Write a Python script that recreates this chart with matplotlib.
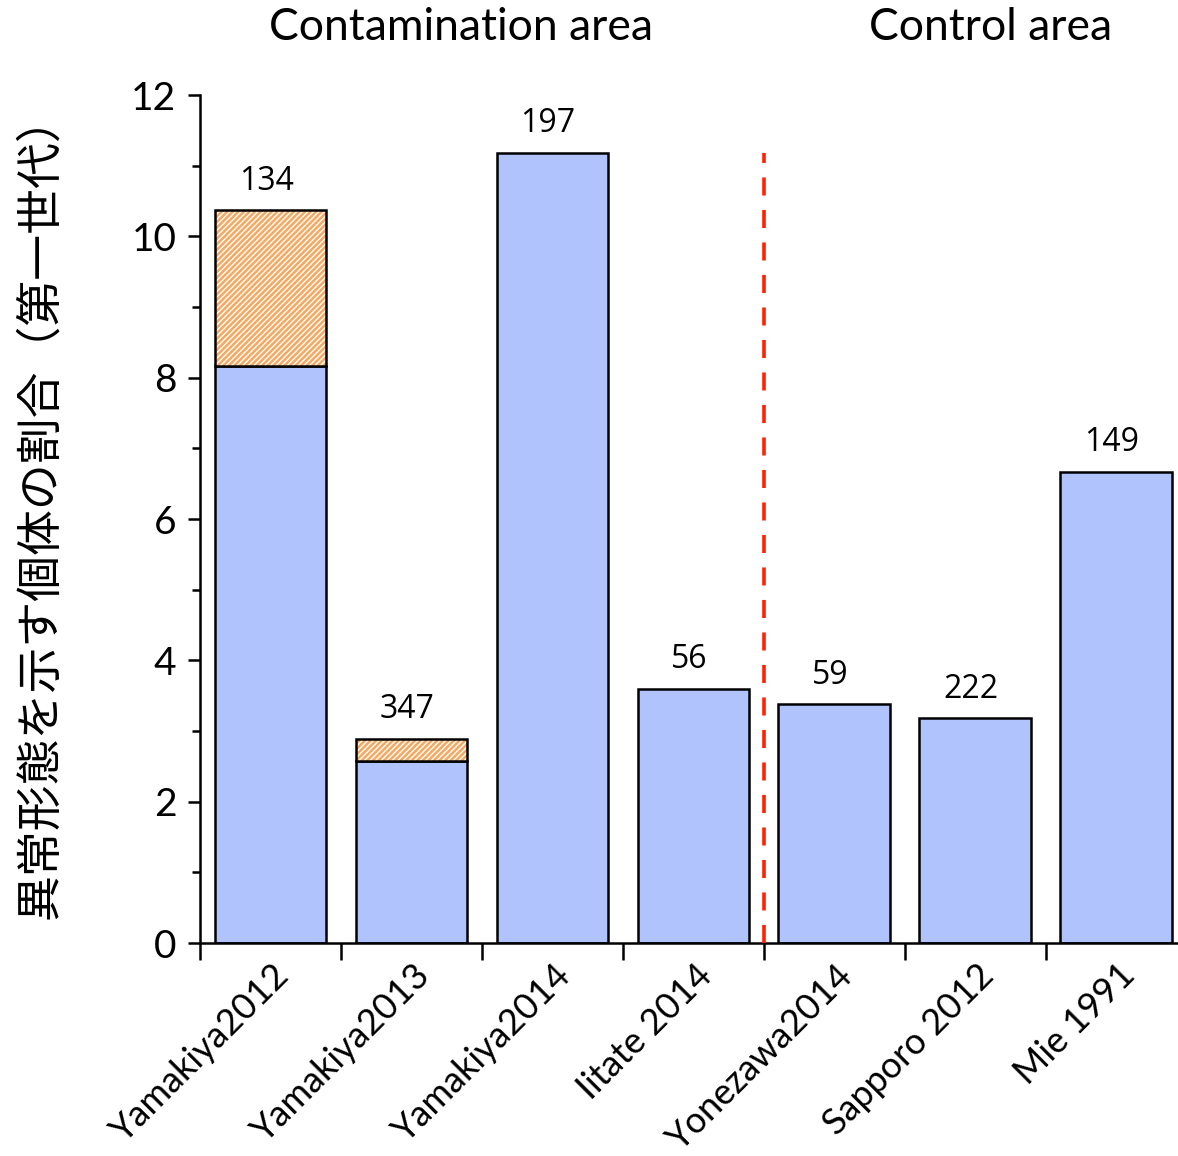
import matplotlib
matplotlib.use("Agg")
import matplotlib.pyplot as plt
import matplotlib.transforms as mtransforms

categories = ["Yamakiya2012", "Yamakiya2013", "Yamakiya2014", "Iitate 2014",
              "Yonezawa2014", "Sapporo 2012", "Mie 1991"]
base_values = [8.16, 2.58, 11.18, 3.60, 3.38, 3.18, 6.67]
extra_values = [2.21, 0.31, 0, 0, 0, 0, 0]
sample_sizes = ["134", "347", "197", "56", "59", "222", "149"]
group_titles = ["Contamination area", "Control area"]
ylabel = "異常形態を示す個体の割合（第一世代）"

plt.rcParams['hatch.color'] = '#F7A860'
plt.rcParams['hatch.linewidth'] = 1.8

fig = plt.figure(figsize=(11.78, 11.56), dpi=100)
ax = fig.add_axes([200/1178, 1-943/1156, 978/1178, (943-95)/1156])

x = list(range(len(categories)))
blue = '#B0C3FD'
ax.bar(x, base_values, width=0.79, color=blue, edgecolor='black', linewidth=1.8, zorder=2)
ax.bar(x, extra_values, bottom=base_values, width=0.79, color='white', edgecolor='#F7A860',
       hatch='//////', linewidth=0, zorder=2)
for xi, b, e in zip(x, base_values, extra_values):
    if e > 0:
        ax.bar(xi, e, bottom=b, width=0.79, fill=False, edgecolor='black', linewidth=1.8, zorder=3)

for xi, b, e, n in zip(x, base_values, extra_values, sample_sizes):
    ax.annotate(n, (xi - 0.03, b + e), xytext=(0, 9), textcoords='offset points',
                ha='center', va='bottom', fontsize=23, family='Open Sans')

ax.plot([3.5, 3.5], [0, max(base_values)], color='#FF2200', linestyle=(0, (5, 4)),
        linewidth=2.6, zorder=4)

ax.set_ylim(0, 12)
ax.set_xlim(-0.5, 6.44)
ax.set_yticks([0, 2, 4, 6, 8, 10, 12])
ax.set_yticks([1, 3, 5, 7, 9, 11], minor=True)
ax.set_yticklabels(['0', '2', '4', '6', '8', '10', '12'], family='Lato', fontsize=28)
ax.tick_params(axis='y', which='major', length=9, width=1.8, direction='out', pad=8)
ax.tick_params(axis='y', which='minor', length=6, width=1.8, direction='out')

ax.set_xticks([i - 0.5 for i in range(len(categories))])
ax.set_xticklabels([])
ax.tick_params(axis='x', which='major', length=12, width=1.8, direction='out')
ax.set_xticks(x, minor=True)
ax.set_xticklabels(categories, minor=True, rotation=45, ha='right', rotation_mode='anchor',
                   family='Lato', fontsize=26)
ax.tick_params(axis='x', which='minor', length=0, pad=11)
offset = mtransforms.ScaledTranslation(2/100, 0, fig.dpi_scale_trans)
for lab in ax.xaxis.get_minorticklabels():
    lab.set_transform(lab.get_transform() + offset)

for s in ['top', 'right']:
    ax.spines[s].set_visible(False)
for s in ['left', 'bottom']:
    ax.spines[s].set_linewidth(1.8)

ax.set_ylabel(ylabel, family=['Noto Sans CJK JP', 'DejaVu Sans'], fontsize=33)
ax.yaxis.set_label_coords(-136/978, 0.515)

fig.text(461/1178, 1-27/1156, group_titles[0], ha='center', va='center', fontsize=32, family='Lato')
fig.text(991/1178, 1-27/1156, group_titles[1], ha='center', va='center', fontsize=32, family='Lato')

fig.savefig('out.png', dpi=100)
